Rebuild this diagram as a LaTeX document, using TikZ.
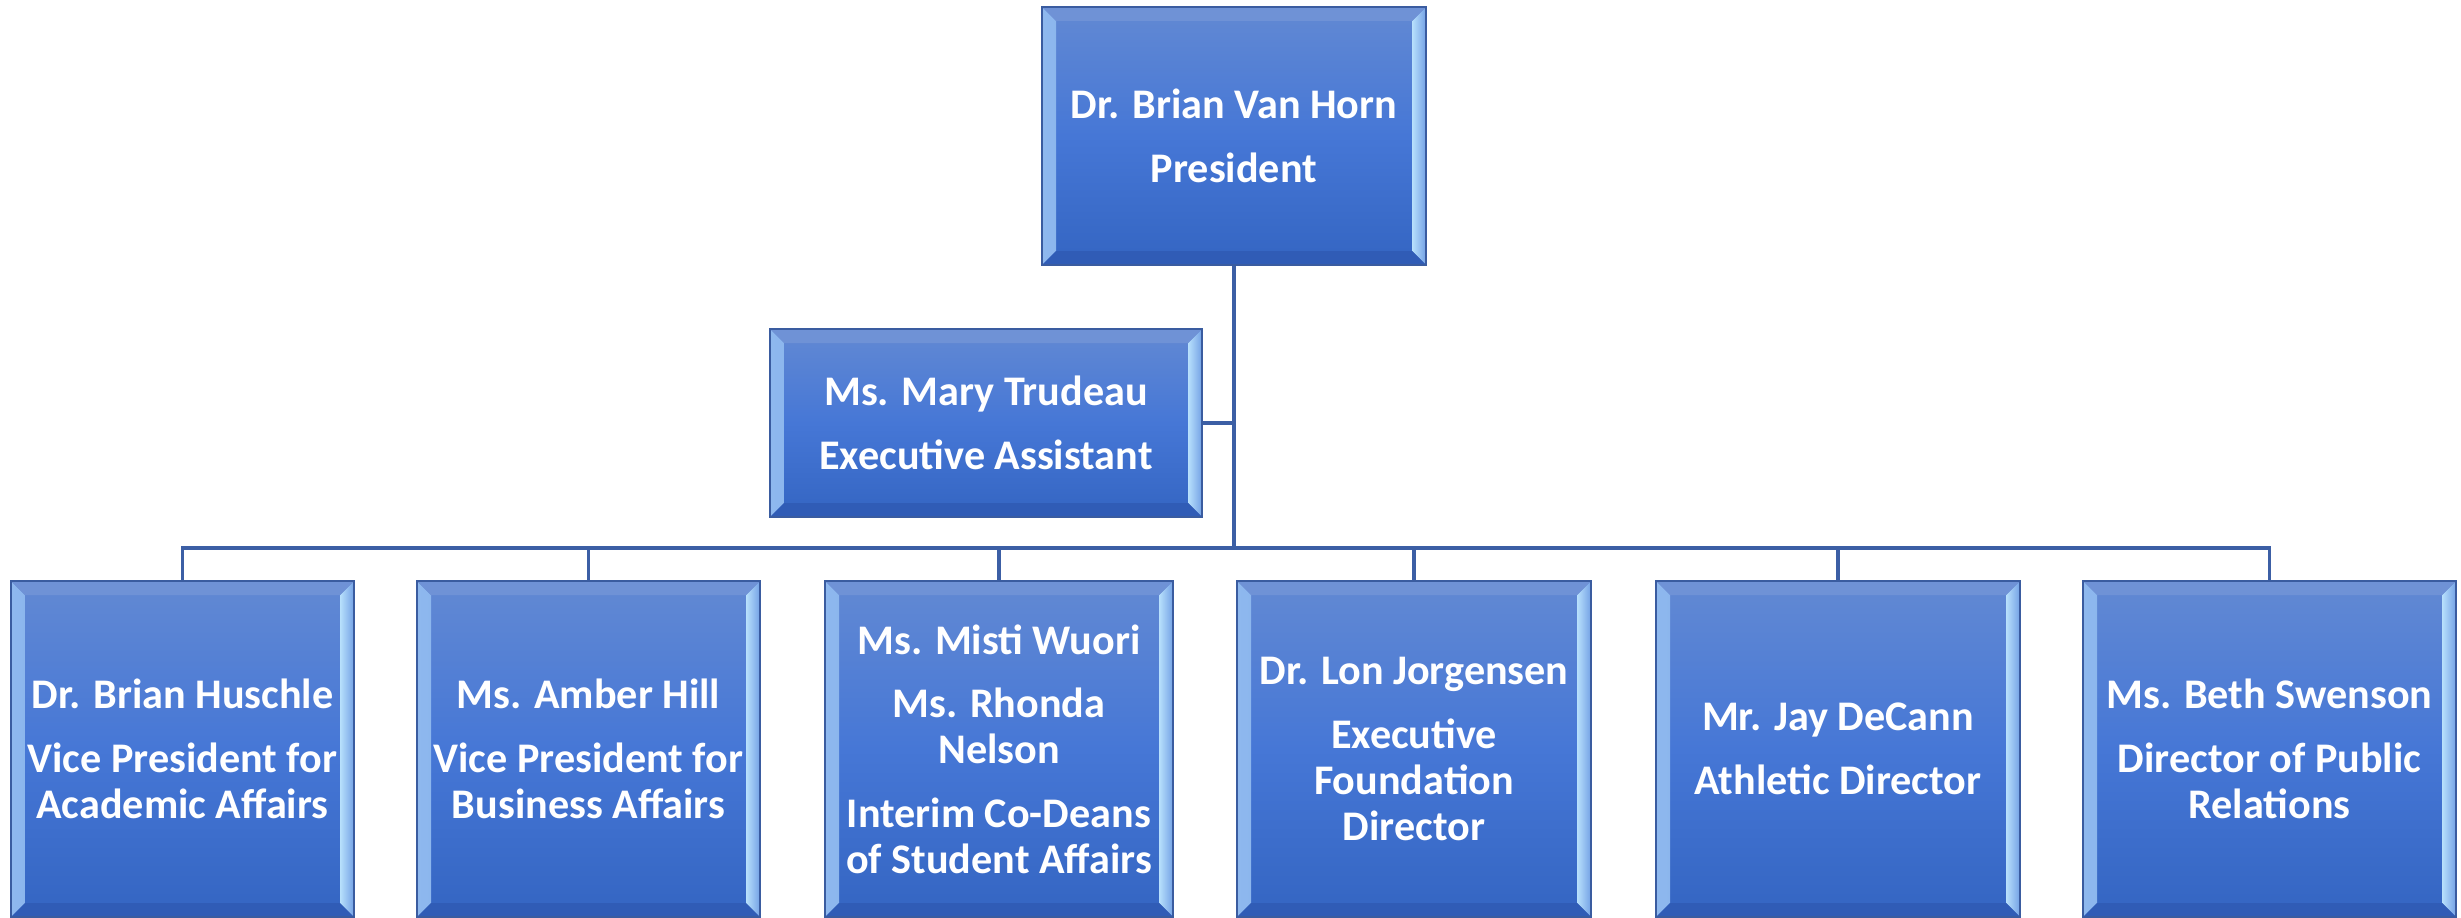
\documentclass[tikz,border=0pt]{standalone}
\usepackage{fontspec}
\setmainfont{Carlito}
\usetikzlibrary{calc}
\definecolor{facetop}{RGB}{98,137,211}
\definecolor{facemid}{RGB}{70,119,214}
\definecolor{facebot}{RGB}{52,101,194}
\definecolor{rimedge}{RGB}{58,92,160}
\definecolor{rimlight}{RGB}{142,184,238}
\definecolor{rimshine}{RGB}{184,224,252}
\definecolor{rimdark}{RGB}{48,92,182}
\definecolor{linkblue}{RGB}{60,95,165}

% bevel width (cm) and gap between title and name blocks
\newcommand\bev{0.14}
\newcommand\blockbreak{\\[5pt]}

\begin{document}
\begin{tikzpicture}[
 post/.style={draw=rimedge,line width=0.5pt,top color=facetop,bottom color=facebot,middle color=facemid,
  text=white,align=center,inner sep=0pt,font=\bfseries\fontsize{12}{13.1}\selectfont,
  path picture={
   \shade[left color=rimlight,right color=facemid!70!rimlight]
    (path picture bounding box.north west) -- ++(\bev,-\bev)
    -- ($(path picture bounding box.south west)+(\bev,\bev)$) -- (path picture bounding box.south west) -- cycle;
   \shade[left color=rimshine,right color=facemid!60!rimshine]
    (path picture bounding box.north east) -- ++(-\bev,-\bev)
    -- ($(path picture bounding box.south east)+(-\bev,\bev)$) -- (path picture bounding box.south east) -- cycle;
   \fill[facetop!92!white]
    (path picture bounding box.north west) -- ++(\bev,-\bev)
    -- ($(path picture bounding box.north east)+(-\bev,-\bev)$) -- (path picture bounding box.north east) -- cycle;
   \fill[rimdark]
    (path picture bounding box.south west) -- ++(\bev,\bev)
    -- ($(path picture bounding box.south east)+(-\bev,\bev)$) -- (path picture bounding box.south east) -- cycle;
  }},
 link/.style={draw=linkblue,line width=0.9pt}
]
\fill[white] (0,0) rectangle (24.61,-9.18);
\useasboundingbox (0,0) rectangle (24.61,-9.18);

\node[post,minimum width=3.84cm,minimum height=2.58cm] (pres) at (12.34,-1.36) {Dr. Brian Van Horn\blockbreak President};
\node[post,minimum width=4.32cm,minimum height=1.88cm] (asst) at (9.86,-4.23) {Ms. Mary Trudeau\blockbreak Executive Assistant};

% direct reports
\node[post,minimum width=3.43cm,minimum height=3.36cm] (acad) at (1.825,-7.49) {Dr. Brian Huschle\blockbreak Vice President for\\Academic Affairs};
\node[post,minimum width=3.43cm,minimum height=3.36cm] (bus) at (5.885,-7.49) {Ms. Amber Hill\blockbreak Vice President for\\Business Affairs};
\node[post,minimum width=3.48cm,minimum height=3.36cm] (stud) at (9.99,-7.49) {Ms. Misti Wuori\blockbreak Ms. Rhonda\\Nelson\blockbreak Interim Co-Deans\\of Student Affairs};
\node[post,minimum width=3.54cm,minimum height=3.36cm] (fdn) at (14.14,-7.49) {Dr. Lon Jorgensen\blockbreak Executive\\Foundation\\Director};
\node[post,minimum width=3.64cm,minimum height=3.36cm] (ath) at (18.38,-7.49) {Mr. Jay DeCann\blockbreak Athletic Director};
\node[post,minimum width=3.73cm,minimum height=3.36cm] (pr) at (22.695,-7.49) {Ms. Beth Swenson\blockbreak Director of Public\\Relations};

% connectors
\coordinate (hub) at (12.34,-5.48);
\draw[link] (pres.south) -- (hub);
\draw[link] (asst.east) -- (asst.east -| pres.south);
\foreach \n in {acad,bus,stud,fdn,ath,pr}
 \draw[link] (hub) -| (\n.north);
\end{tikzpicture}
\end{document}
